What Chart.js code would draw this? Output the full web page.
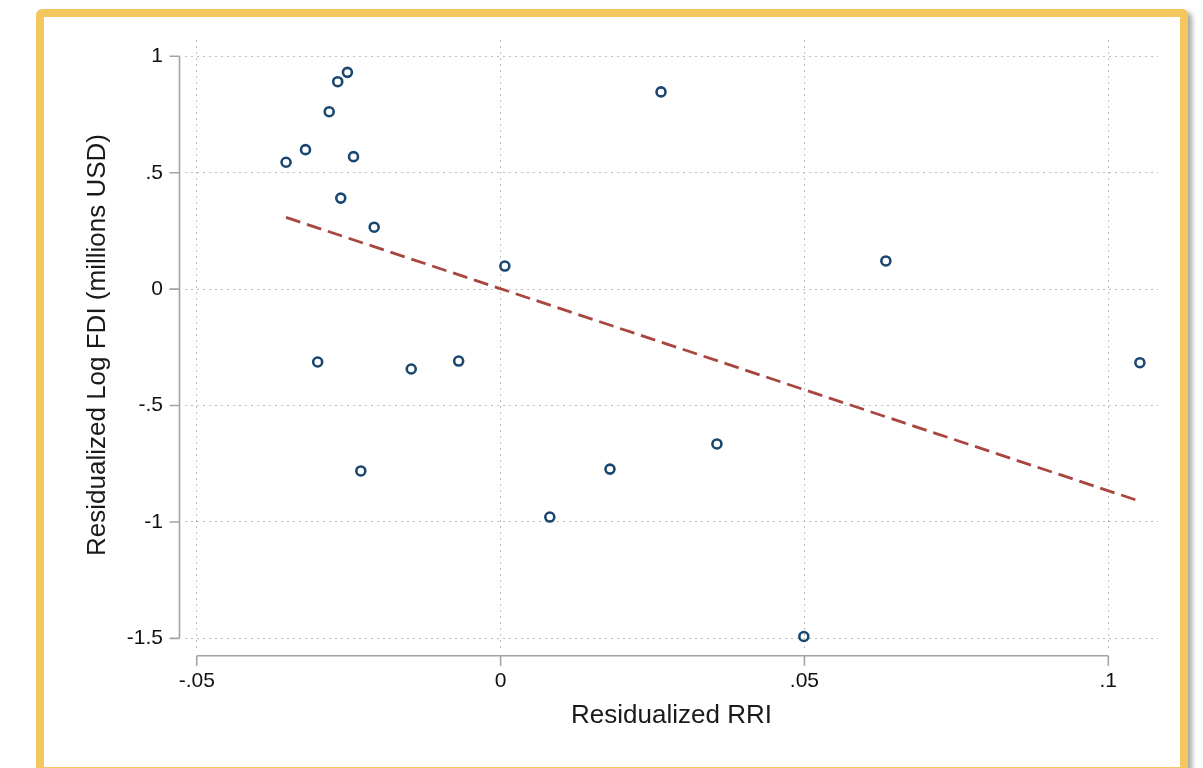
<!DOCTYPE html>
<html><head><meta charset="utf-8">
<script src="https://cdn.jsdelivr.net/npm/chart.js@4.4.1/dist/chart.umd.min.js"></script>
<style>
html,body{margin:0;padding:0;background:#fff;width:1203px;height:768px;overflow:hidden;}
#frame{position:absolute;left:36px;top:9px;width:1152px;height:766px;box-sizing:border-box;border:8px solid #f3c75d;border-radius:6px;box-shadow:4px 3px 5px rgba(0,0,0,0.35);background:#fff;}
#wrap{position:absolute;left:0;top:0;width:1203px;height:768px;}
</style></head>
<body><div id="frame"></div><div id="wrap"><canvas id="c" width="1203" height="768"></canvas></div>
<script>
const xValues = [-0.0353,-0.0321,-0.0282,-0.0268,-0.0252,-0.0242,-0.0263,-0.0208,-0.0301,-0.0230,-0.0147,-0.0069,0.0007,0.0081,0.0180,0.0264,0.0356,0.0499,0.0634,0.1052];
const yValues = [0.545,0.599,0.762,0.891,0.931,0.569,0.391,0.266,-0.313,-0.781,-0.343,-0.309,0.099,-0.979,-0.773,0.847,-0.665,-1.492,0.121,-0.316];
const fitX = [-0.0353, 0.1053];
const fitY = [0.308, -0.912];
const xTicks = [-0.05, 0, 0.05, 0.1];
const xTickLabels = ['-.05', '0', '.05', '.1'];
const yTicks = [-1.5, -1, -0.5, 0, 0.5, 1];
const yTickLabels = ['-1.5', '-1', '-.5', '0', '.5', '1'];
const xTitle = 'Residualized RRI';
const yTitle = 'Residualized Log FDI (millions USD)';

const FONT = '"Liberation Sans", Arial, Helvetica, sans-serif';

const axisPlugin = {
  id: 'stataAxes',
  afterDraw(chart) {
    const {ctx, chartArea} = chart;
    const x = chart.scales.x, y = chart.scales.y;
    ctx.save();
    ctx.strokeStyle = '#a3a3a3';
    ctx.lineWidth = 1.6;
    ctx.setLineDash([]);
    const ax = chartArea.left - 5.5;
    ctx.beginPath();
    ctx.moveTo(ax, y.getPixelForValue(yTicks[yTicks.length - 1]));
    ctx.lineTo(ax, y.getPixelForValue(yTicks[0]));
    yTicks.forEach(v => { const p = y.getPixelForValue(v); ctx.moveTo(ax, p); ctx.lineTo(ax - 10, p); });
    const ay = chartArea.bottom + 5.7;
    ctx.moveTo(x.getPixelForValue(xTicks[0]), ay);
    ctx.lineTo(x.getPixelForValue(xTicks[xTicks.length - 1]), ay);
    xTicks.forEach(v => { const p = x.getPixelForValue(v); ctx.moveTo(p, ay); ctx.lineTo(p, ay + 10); });
    ctx.stroke();
    ctx.restore();
  }
};

new Chart(document.getElementById('c'), {
  type: 'scatter',
  data: {
    datasets: [
      {
        type: 'line',
        data: fitX.map((v, i) => ({x: v, y: fitY[i]})),
        borderColor: '#a8463f',
        borderWidth: 2.8,
        borderDash: [15, 7],
        pointRadius: 0,
        fill: false,
        order: 2
      },
      {
        type: 'scatter',
        data: xValues.map((v, i) => ({x: v, y: yValues[i]})),
        pointStyle: 'circle',
        pointRadius: 4.5,
        pointBorderWidth: 2.6,
        borderColor: '#1a476f',
        backgroundColor: 'rgba(0,0,0,0)',
        order: 1
      }
    ]
  },
  options: {
    responsive: false,
    animation: false,
    events: [],
    layout: {padding: {left: 0, top: 40, right: 45, bottom: 0}},
    plugins: {legend: {display: false}, tooltip: {enabled: false}},
    scales: {
      x: {
        type: 'linear',
        min: -0.05193,
        max: 0.10818,
        afterBuildTicks: s => { s.ticks = xTicks.map(v => ({value: v})); },
        afterFit: s => { s.height = 118; },
        ticks: {
          callback: v => xTickLabels[xTicks.indexOf(v)],
          font: {family: FONT, size: 21},
          color: '#111',
          padding: 19,
          maxRotation: 0
        },
        grid: {color: '#bdbdbd', lineWidth: 1, drawTicks: false},
        border: {display: false, dash: [2, 4]},
        title: {display: true, text: xTitle, font: {family: FONT, size: 26}, color: '#1a1a1a', padding: {top: 0, bottom: 37}}
      },
      y: {
        type: 'linear',
        min: -1.550,
        max: 1.070,
        afterBuildTicks: s => { s.ticks = yTicks.map(v => ({value: v})); },
        afterFit: s => { s.width = 185; },
        ticks: {
          callback: v => yTickLabels[yTicks.indexOf(v)],
          font: {family: FONT, size: 21},
          color: '#111',
          padding: 22
        },
        grid: {color: '#bdbdbd', lineWidth: 1, drawTicks: false},
        border: {display: false, dash: [2, 4]},
        title: {display: true, text: yTitle, font: {family: FONT, size: 26}, color: '#1a1a1a', padding: {top: 82, bottom: 0}}
      }
    }
  },
  plugins: [axisPlugin]
});
</script>
</body></html>
